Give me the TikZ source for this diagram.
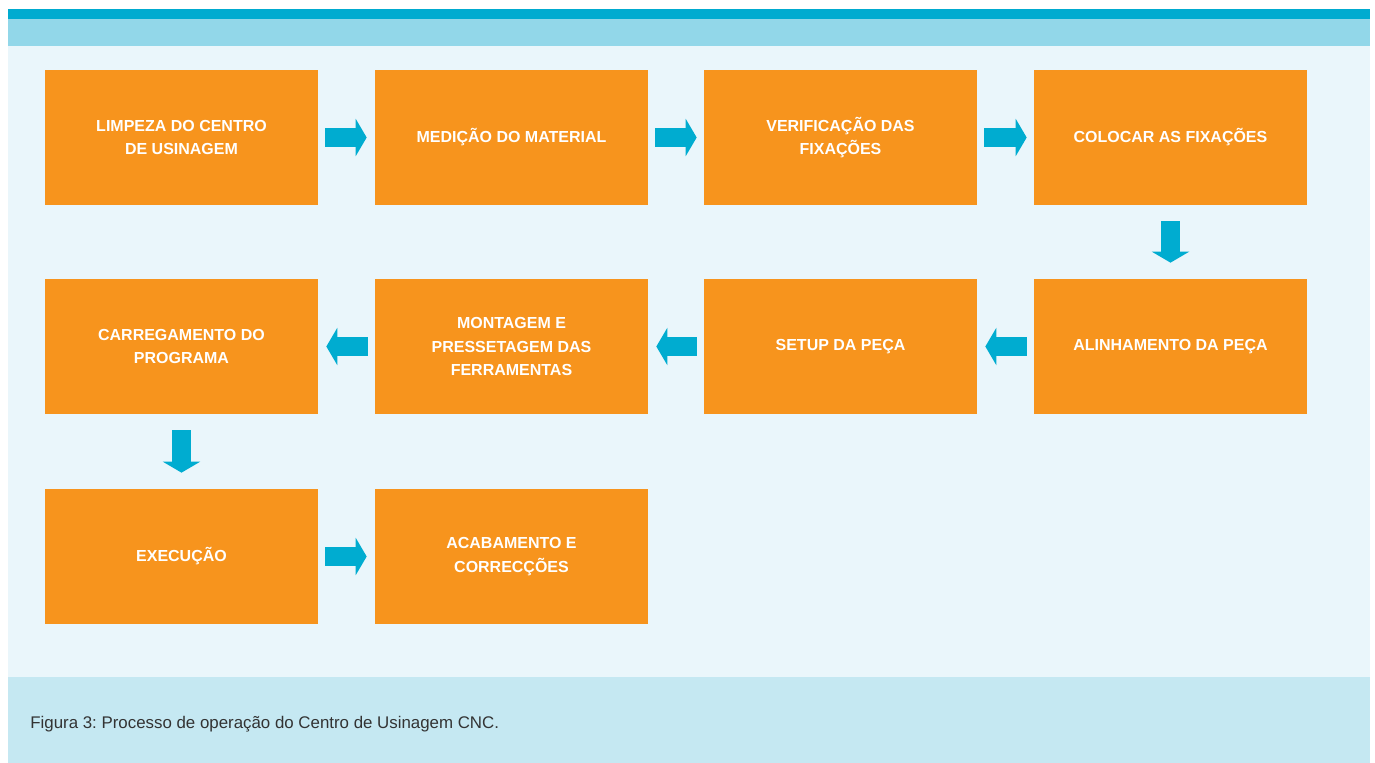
\documentclass[tikz,border=0pt]{standalone}
\usepackage{fontspec}
\setmainfont{Liberation Sans}
\frenchspacing
\usetikzlibrary{arrows.meta}
\definecolor{laranja}{HTML}{F7941D}
\definecolor{azulseta}{HTML}{00ACD0}
\definecolor{azulbarra}{HTML}{00ABD0}
\definecolor{azulclaro}{HTML}{92D7E9}
\definecolor{fundo}{HTML}{EAF6FB}
\definecolor{legenda}{HTML}{C5E8F2}
\tikzset{
  etapa/.style={fill=laranja, text=white, minimum width=5.46cm, minimum height=2.7cm,
    align=center, font=\fontsize{9.1}{13.2}\selectfont\bfseries},
  seta/.style={azulseta, line width=3.8mm, -{Triangle[width=7.4mm, length=2.2mm]}}
}
\begin{document}
\begin{tikzpicture}[x=0.02cm, y=-0.02cm, line join=round]
	\useasboundingbox (0,0) rectangle (1375,763);
	\fill[azulbarra] (8,9) rectangle (1370,19);
	\fill[azulclaro] (8,19) rectangle (1370,46);
	\fill[fundo] (8,46) rectangle (1370,677);
	\fill[legenda] (8,677) rectangle (1370,763);
	\node[anchor=base west, inner sep=0, text=black!80, font=\fontsize{9.6}{11}\selectfont] (leg) at (30,728) {Figura 3: Processo de operação do Centro de Usinagem CNC.};
	% primeira linha
	\node[etapa] (limpeza) at (181.5,137.5) {LIMPEZA DO CENTRO\\DE USINAGEM};
	\node[etapa] (medicao) at (511.5,137.5) {MEDIÇÃO DO MATERIAL};
	\node[etapa] (verif) at (840.5,137.5) {VERIFICAÇÃO DAS\\FIXAÇÕES};
	\node[etapa] (colocar) at (1170.5,137.5) {COLOCAR AS FIXAÇÕES};
	% segunda linha
	\node[etapa] (alinha) at (1170.5,346.5) {ALINHAMENTO DA PEÇA};
	\node[etapa] (setup) at (840.5,346.5) {SETUP DA PEÇA};
	\node[etapa] (montagem) at (511.5,346.5) {MONTAGEM E\\PRESSETAGEM DAS\\FERRAMENTAS};
	\node[etapa] (carrega) at (181.5,346.5) {CARREGAMENTO DO\\PROGRAMA};
	% terceira linha
	\node[etapa] (execucao) at (181.5,556.5) {EXECUÇÃO};
	\node[etapa] (acaba) at (511.5,556.5) {ACABAMENTO E\\CORRECÇÕES};
	% setas
	\draw[seta, shorten <=1.4mm, shorten >=1.6mm] (limpeza) -- (medicao);
	\draw[seta, shorten <=1.4mm, shorten >=1.4mm] (medicao) -- (verif);
	\draw[seta, shorten <=1.4mm, shorten >=1.4mm] (verif) -- (colocar);
	\draw[seta, shorten <=3.2mm, shorten >=3.2mm] (colocar) -- (alinha);
	\draw[seta, shorten <=1.4mm, shorten >=1.6mm] (alinha) -- (setup);
	\draw[seta, shorten <=1.4mm, shorten >=1.6mm] (setup) -- (montagem);
	\draw[seta, shorten <=1.4mm, shorten >=1.6mm] (montagem) -- (carrega);
	\draw[seta, shorten <=3.2mm, shorten >=3.2mm] (carrega) -- (execucao);
	\draw[seta, shorten <=1.4mm, shorten >=1.6mm] (execucao) -- (acaba);
\end{tikzpicture}
\end{document}
